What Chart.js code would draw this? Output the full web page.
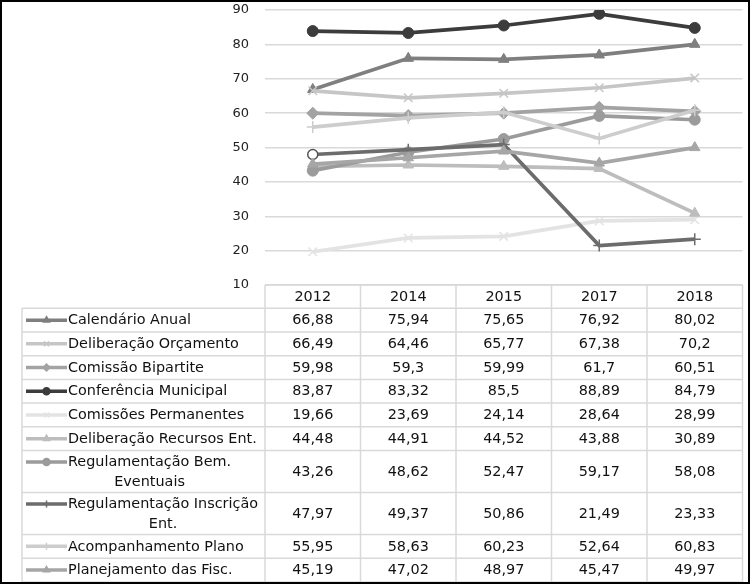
<!DOCTYPE html>
<html><head><meta charset="utf-8">
<script src="https://cdn.jsdelivr.net/npm/chart.js@4/dist/chart.umd.min.js"></script>
<style>html,body{margin:0;padding:0;background:#fff;}canvas{display:block;}</style>
</head><body>
<canvas id="c" width="750" height="584"></canvas>
<script>
const years = ['2012', '2014', '2015', '2017', '2018'];
const yTicks = [10, 20, 30, 40, 50, 60, 70, 80, 90];
const seriesLabels = [
  ['Calendário Anual'],
  ['Deliberação Orçamento'],
  ['Comissão Bipartite'],
  ['Conferência Municipal'],
  ['Comissões Permanentes'],
  ['Deliberação Recursos Ent.'],
  ['Regulamentação Bem.', 'Eventuais'],
  ['Regulamentação Inscrição', 'Ent.'],
  ['Acompanhamento Plano'],
  ['Planejamento das Fisc.']
];
const calendarioAnual = [66.88, 75.94, 75.65, 76.92, 80.02];
const deliberacaoOrcamento = [66.49, 64.46, 65.77, 67.38, 70.2];
const comissaoBipartite = [59.98, 59.3, 59.99, 61.7, 60.51];
const conferenciaMunicipal = [83.87, 83.32, 85.5, 88.89, 84.79];
const comissoesPermanentes = [19.66, 23.69, 24.14, 28.64, 28.99];
const deliberacaoRecursos = [44.48, 44.91, 44.52, 43.88, 30.89];
const regulamentacaoBem = [43.26, 48.62, 52.47, 59.17, 58.08];
const regulamentacaoInscricao = [47.97, 49.37, 50.86, 21.49, 23.33];
const acompanhamentoPlano = [55.95, 58.63, 60.23, 52.64, 60.83];
const planejamentoFisc = [45.19, 47.02, 48.97, 45.47, 49.97];

const seriesValues = [calendarioAnual, deliberacaoOrcamento, comissaoBipartite, conferenciaMunicipal,
  comissoesPermanentes, deliberacaoRecursos, regulamentacaoBem, regulamentacaoInscricao,
  acompanhamentoPlano, planejamentoFisc];

const styles = [
  {c: '#7f7f7f', p: 'triangle', r: 6, bw: 1},
  {c: '#c6c6c6', p: 'crossRot', r: 6, bw: 1.5},
  {c: '#a3a3a3', p: 'rectRot', r: 6, bw: 1},
  {c: '#3c3c3c', p: 'circle', r: 5.5, bw: 1},
  {c: '#e3e3e3', p: 'crossRot', r: 6, bw: 1.5},
  {c: '#bdbdbd', p: 'triangle', r: 6, bw: 1},
  {c: '#9b9b9b', p: 'circle', r: 5.5, bw: 1},
  {c: '#6c6c6c', p: 'cross', r: 6, bw: 1.5},
  {c: '#cdcdcd', p: 'cross', r: 6, bw: 1.5},
  {c: '#a6a6a6', p: 'triangle', r: 6, bw: 1}
];

const FONT = '"DejaVu Sans", Verdana, sans-serif';
const TABLE_FONT = '14.4px ' + FONT;

const datasets = seriesValues.map((vals, i) => {
  const s = styles[i];
  const ds = {
    label: seriesLabels[i].join(' '),
    data: vals,
    borderColor: s.c,
    backgroundColor: s.c,
    borderWidth: 3.7,
    tension: 0,
    pointStyle: s.p,
    pointRadius: s.r,
    pointBorderWidth: s.bw,
    pointBackgroundColor: s.c,
    pointBorderColor: s.c,
    order: -i
  };
  if (i === 7) {
    ds.pointStyle = ['circle', 'cross', 'cross', 'cross', 'cross'];
    ds.pointBackgroundColor = ['#ffffff', s.c, s.c, s.c, s.c];
    ds.pointBorderColor = ['#555555', s.c, s.c, s.c, s.c];
    ds.pointRadius = [5, 6, 6, 6, 6];
  }
  return ds;
});

function fmt(v) { return String(v).replace('.', ','); }

const tablePlugin = {
  id: 'dataTable',
  afterDraw(chart) {
    const ctx = chart.ctx;
    const xs = chart.scales.x;
    const area = chart.chartArea;
    const n = years.length;
    const colW = (area.right - area.left) / n;
    const left = 22;
    const top = area.bottom;
    const headerH = 23.3;
    const ys = [top + headerH];
    seriesLabels.forEach(l => ys.push(ys[ys.length - 1] + (l.length > 1 ? 42 : 23.7)));
    const bottom = ys[ys.length - 1];
    ctx.save();
    ctx.strokeStyle = '#d9d9d9';
    ctx.lineWidth = 1.5;
    const line = (x1, y1, x2, y2) => { ctx.beginPath(); ctx.moveTo(x1, y1); ctx.lineTo(x2, y2); ctx.stroke(); };
    line(area.left, top, area.right, top);
    ys.forEach(y => line(left, y, area.right, y));
    line(left, ys[0], left, bottom);
    for (let i = 0; i <= n; i++) {
      const x = area.left + i * colW;
      line(x, top, x, bottom);
    }
    ctx.font = TABLE_FONT;
    ctx.fillStyle = '#111';
    ctx.textAlign = 'center';
    ctx.textBaseline = 'middle';
    years.forEach((yr, i) => ctx.fillText(yr, xs.getPixelForValue(i), top + headerH / 2 + 1));

    chart.data.datasets.forEach((ds, r) => {
      const y0 = ys[r], y1 = ys[r + 1];
      const mid = (y0 + y1) / 2;
      const lines = seriesLabels[r];
      const firstY = lines.length > 1 ? y0 + 11.5 : mid;
      const s = styles[r];
      // legend key
      ctx.strokeStyle = s.c;
      ctx.lineWidth = 3.5;
      line(26, firstY, 67, firstY);
      ctx.fillStyle = s.c;
      ctx.strokeStyle = s.c;
      ctx.lineWidth = 1.5;
      Chart.helpers.drawPoint(ctx, {pointStyle: s.p, radius: 3.5, rotation: 0, borderWidth: 1.5}, 46.5, firstY);
      // label
      ctx.fillStyle = '#111';
      ctx.font = TABLE_FONT;
      const widths = lines.map(t => ctx.measureText(t).width);
      const maxW = Math.max(...widths);
      ctx.textAlign = 'center';
      lines.forEach((t, k) => ctx.fillText(t, 68 + maxW / 2, firstY + k * 20 + 0.5));
      // values
      ds.data.forEach((v, i) => ctx.fillText(fmt(v), xs.getPixelForValue(i), mid + 0.5));
    });
    // outer frame
    ctx.strokeStyle = '#000';
    ctx.lineWidth = 2;
    ctx.strokeRect(1, 1, 748, 582);
    ctx.restore();
  }
};

new Chart(document.getElementById('c'), {
  type: 'line',
  data: {labels: years, datasets: datasets},
  options: {
    responsive: false,
    animation: false,
    devicePixelRatio: 1,
    layout: {padding: {left: 0, right: 0, top: 10, bottom: 299}},
    plugins: {legend: {display: false}, tooltip: {enabled: false}},
    scales: {
      x: {display: false, offset: true},
      y: {
        min: yTicks[0],
        max: yTicks[yTicks.length - 1],
        afterFit: s => { s.width = 265; s.paddingTop = 0; s.paddingBottom = 0; },
        afterBuildTicks: s => { s.ticks = yTicks.map(v => ({value: v})); },
        border: {display: false},
        grid: {color: '#d9d9d9', lineWidth: 1.5, drawTicks: false},
        ticks: {padding: 16, color: '#222', font: {family: FONT, size: 13}}
      }
    }
  },
  plugins: [tablePlugin]
});
</script>
</body></html>
